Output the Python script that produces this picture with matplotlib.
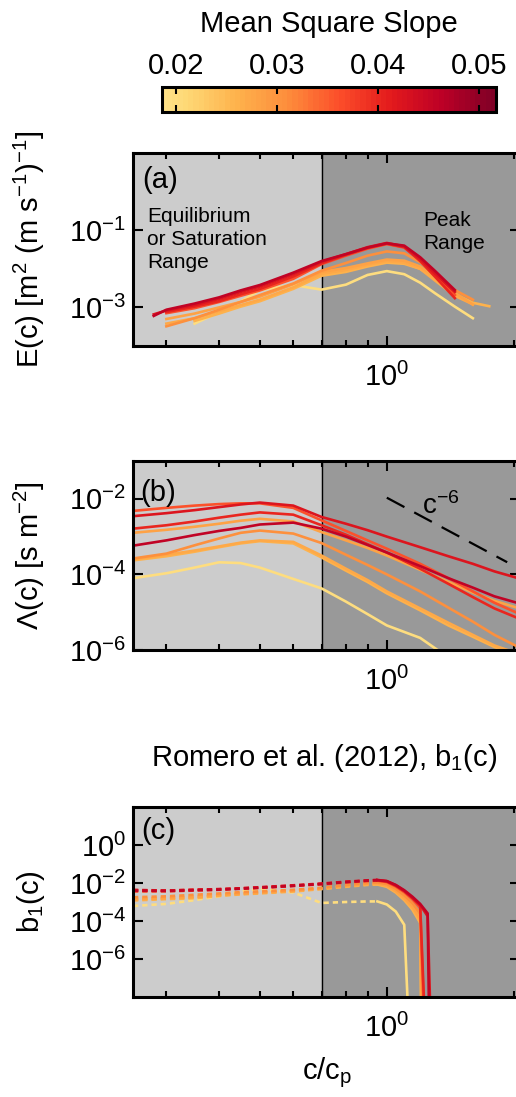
import numpy as np
import matplotlib
matplotlib.use('Agg')
import matplotlib.pyplot as plt
from matplotlib.colors import ListedColormap, Normalize
from matplotlib.cm import ScalarMappable
from matplotlib.ticker import NullFormatter, NullLocator

plt.rcParams['font.family'] = ['Liberation Sans', 'DejaVu Sans']
plt.rcParams['mathtext.fontset'] = 'custom'
plt.rcParams['mathtext.rm'] = 'Liberation Sans'
plt.rcParams['mathtext.it'] = 'Liberation Sans'
plt.rcParams['mathtext.bf'] = 'Liberation Sans:bold'

# mean square slope of each record (colour)
mss = [0.020, 0.026, 0.027, 0.028, 0.031, 0.036, 0.040, 0.042, 0.046]

nan = np.nan

# (a) E(c), log10 values
grid_a = [0.28, 0.3, 0.35, 0.4, 0.45, 0.5, 0.6, 0.7, 0.8, 0.9, 1.0, 1.1, 1.2, 1.3, 1.45, 1.6, 1.75]
E_exp = [
    [nan, nan, -3.42, -3.12, -2.85, -2.55, -2.42, -2.54, -2.41, -2.16, -2.06, -2.14, -2.36, -2.63, -2.98, -3.28, nan],
    [nan, nan, -3.35, -3.16, -2.98, -2.84, -2.52, -2.18, -2.08, -1.94, -1.84, -1.87, -2.00, -2.25, -2.65, -2.88, -2.97],
    [nan, -3.42, -3.28, -3.10, -2.94, -2.80, -2.48, -2.13, -2.03, -1.90, -1.80, -1.84, -2.00, -2.30, -2.70, -2.92, nan],
    [nan, -3.30, -3.16, -3.00, -2.86, -2.72, -2.40, -2.08, -1.98, -1.86, -1.76, -1.79, -1.94, -2.22, -2.62, -2.93, nan],
    [nan, -3.49, -3.28, -3.06, -2.86, -2.68, -2.38, -2.05, -1.85, -1.66, -1.55, -1.60, -1.83, -2.15, -2.55, -2.80, nan],
    [nan, -3.15, -3.02, -2.86, -2.70, -2.56, -2.26, -1.88, -1.66, -1.48, -1.36, -1.45, -1.78, -2.15, -2.68, nan, nan],
    [nan, -3.12, -2.98, -2.84, -2.66, -2.52, -2.20, -1.86, -1.64, -1.46, -1.35, -1.44, -1.80, -2.20, -2.76, nan, nan],
    [-3.18, -3.08, -2.94, -2.78, -2.60, -2.46, -2.14, -1.82, -1.62, -1.44, -1.33, -1.42, -1.75, -2.12, -2.60, nan, nan],
    [-3.22, -3.06, -2.90, -2.74, -2.56, -2.42, -2.10, -1.80, -1.62, -1.45, -1.34, -1.40, -1.70, -2.05, -2.55, nan, nan],
]

# (b) Lambda(c), log10 values
grid_b = [0.25, 0.3, 0.35, 0.4, 0.45, 0.5, 0.6, 0.7, 0.8, 0.9, 1.0, 1.2, 1.4, 1.6, 1.8, 2.05]
L_exp = [
    [-4.10, -3.97, -3.82, -3.68, -3.70, -3.82, -4.12, -4.37, -4.72, -5.05, -5.35, -5.68, -6.20, -6.45, -6.65, -6.85],
    [-3.63, -3.52, -3.40, -3.28, -3.18, -3.12, -3.18, -3.55, -3.90, -4.20, -4.50, -4.95, -5.35, -5.65, -5.92, -6.15],
    [-3.60, -3.48, -3.37, -3.26, -3.16, -3.10, -3.14, -3.50, -3.85, -4.15, -4.45, -4.90, -5.28, -5.60, -5.88, -6.10],
    [-2.90, -2.82, -2.74, -2.66, -2.58, -2.53, -2.60, -2.88, -3.10, -3.30, -3.50, -3.88, -4.20, -4.48, -4.70, -4.89],
    [-3.58, -3.45, -3.23, -3.05, -2.90, -2.84, -2.92, -3.17, -3.48, -3.75, -4.00, -4.45, -4.88, -5.25, -5.60, -5.92],
    [-2.32, -2.24, -2.18, -2.14, -2.12, -2.12, -2.24, -2.57, -2.85, -3.10, -3.32, -3.72, -4.10, -4.45, -4.75, -5.03],
    [-2.79, -2.70, -2.60, -2.50, -2.42, -2.36, -2.42, -2.70, -2.95, -3.20, -3.42, -3.85, -4.25, -4.60, -4.90, -5.16],
    [-2.46, -2.38, -2.30, -2.22, -2.15, -2.10, -2.18, -2.48, -2.66, -2.83, -3.00, -3.28, -3.52, -3.72, -3.92, -4.10],
    [-3.24, -3.10, -2.96, -2.85, -2.77, -2.68, -2.63, -2.79, -3.00, -3.22, -3.42, -3.78, -4.10, -4.35, -4.58, -4.76],
]
ref_c = [1.0, 1.93]
ref_lam = [1.07e-2, 2.1e-4]

# (c) Romero et al. b1(c), log10 values, and the speed where it drops out
grid_c = [0.25, 0.3, 0.35, 0.4, 0.45, 0.5, 0.6, 0.7, 0.8, 0.9, 0.95, 1.0, 1.05, 1.1, 1.15, 1.2, 1.25]
b1_exp = [
    [-3.21, -3.10, -2.90, -2.70, -2.45, -2.30, -2.50, -3.05, -3.00, -2.97, -2.97, -3.13, -3.50, -4.20, nan, nan, nan],
    [-2.92, -2.85, -2.80, -2.68, -2.60, -2.55, -2.45, -2.32, -2.20, -2.10, -2.08, -2.20, -2.50, -2.90, -3.40, -4.10, nan],
    [-2.88, -2.82, -2.76, -2.65, -2.58, -2.52, -2.42, -2.30, -2.16, -2.07, -2.05, -2.15, -2.45, -2.85, -3.30, -3.95, nan],
    [-2.85, -2.78, -2.72, -2.62, -2.55, -2.50, -2.40, -2.28, -2.14, -2.04, -2.02, -2.12, -2.40, -2.78, -3.22, -3.85, nan],
    [-2.75, -2.70, -2.62, -2.55, -2.48, -2.44, -2.36, -2.25, -2.10, -2.00, -1.97, -2.05, -2.30, -2.65, -3.05, -3.60, nan],
    [-2.45, -2.44, -2.40, -2.36, -2.30, -2.26, -2.16, -2.07, -1.97, -1.90, -1.88, -1.95, -2.18, -2.48, -2.85, -3.30, nan],
    [-2.36, -2.40, -2.35, -2.33, -2.28, -2.24, -2.14, -2.05, -1.95, -1.88, -1.86, -1.92, -2.14, -2.42, -2.78, -3.20, nan],
    [-2.38, -2.40, -2.36, -2.32, -2.28, -2.22, -2.12, -2.03, -1.93, -1.86, -1.84, -1.90, -2.12, -2.42, -2.78, -3.15, -3.75],
    [-2.40, -2.42, -2.38, -2.35, -2.30, -2.25, -2.15, -2.05, -1.95, -1.87, -1.85, -1.90, -2.10, -2.38, -2.72, -3.10, -3.60],
]
b1_cut = [1.14, 1.21, 1.215, 1.22, 1.23, 1.24, 1.245, 1.28, 1.265]
dash_end = 0.95

cbar_ticks = [0.02, 0.03, 0.04, 0.05]
cbar_labels = ['0.02', '0.03', '0.04', '0.05']
minor_x = [0.3, 0.4, 0.5, 0.6, 0.7, 0.8, 0.9, 2.0]

FS = 21

cmap = ListedColormap(plt.get_cmap('YlOrRd')(np.linspace(0.2, 1.0, 64)))
norm = Normalize(0.0186, 0.0517)

fig = plt.figure(figsize=(5.16, 10.97), dpi=100)
W, H = 516.0, 1097.0


def box(l, t, r, b):
    return [l / W, 1 - b / H, (r - l) / W, (b - t) / H]


def style(ax, ylim, yticks, ylabels):
    ax.set_xscale('log')
    ax.set_yscale('log')
    ax.set_xlim(0.25, 2.07)
    ax.set_ylim(*ylim)
    ax.axvspan(0.25, 0.7, color='#cccccc', zorder=0)
    ax.axvspan(0.7, 2.07, color='#999999', zorder=0)
    ax.axvline(0.7, color='k', lw=1.0, zorder=1)
    ax.set_xticks([1.0])
    ax.set_xticklabels(['$10^{0}$'])
    ax.set_xticks(minor_x, minor=True)
    ax.xaxis.set_minor_formatter(NullFormatter())
    ax.set_yticks(yticks)
    ax.set_yticklabels(ylabels)
    ax.yaxis.set_minor_locator(NullLocator())
    ax.tick_params(which='both', direction='in', top=True, right=True, labelsize=FS)
    ax.tick_params(which='major', length=7, width=1.5)
    ax.tick_params(which='minor', length=4, width=1.5)
    ax.tick_params(axis='x', pad=12)
    ax.tick_params(axis='y', pad=5)
    for s in ax.spines.values():
        s.set_linewidth(2.2)
        s.set_zorder(5)


# colorbar
cax = fig.add_axes(box(162, 87, 496, 112))
cb = fig.colorbar(ScalarMappable(norm=norm, cmap=cmap), cax=cax,
                  orientation='horizontal', ticklocation='top')
cb.set_ticks(cbar_ticks)
cb.set_ticklabels(cbar_labels)
cax.tick_params(direction='in', top=True, bottom=True, length=5, width=1.5,
                labelsize=FS, pad=5)
cb.outline.set_linewidth(2.2)
fig.text(329 / W, 1 - 24 / H, 'Mean Square Slope', ha='center', va='center', fontsize=FS)

# (a)
ax1 = fig.add_axes(box(133, 153, 520, 346))
style(ax1, (1e-4, 10), [1e-3, 1e-1], ['$10^{-3}$', '$10^{-1}$'])
for m, vals in zip(mss, E_exp):
    ax1.plot(grid_a, 10.0 ** np.array(vals), color=cmap(norm(m)), lw=1.9, zorder=2)
ax1.set_ylabel('E(c) [m$^2$ (m s$^{-1}$)$^{-1}$]', fontsize=FS)
ax1.yaxis.set_label_coords(-0.222, 0.5)
ax1.text(0.024, 0.935, '(a)', transform=ax1.transAxes, fontsize=FS, va='top')
ax1.text(0.037, 0.72, 'Equilibrium\nor Saturation\nRange', transform=ax1.transAxes,
         fontsize=15, va='top', linespacing=1.25)
ax1.text(0.75, 0.70, 'Peak\nRange', transform=ax1.transAxes,
         fontsize=15, va='top', linespacing=1.25)

# (b)
ax2 = fig.add_axes(box(133, 461, 520, 650))
style(ax2, (1e-6, 1e-1), [1e-6, 1e-4, 1e-2], ['$10^{-6}$', '$10^{-4}$', '$10^{-2}$'])
for m, vals in zip(mss, L_exp):
    ax2.plot(grid_b, 10.0 ** np.array(vals), color=cmap(norm(m)), lw=1.9, zorder=2)
ax2.plot(ref_c, ref_lam, color='k', lw=1.6, ls=(0, (9, 5)), zorder=3)
ax2.text(0.748, 0.72, 'c$^{-6}$', transform=ax2.transAxes, fontsize=20, va='baseline')
ax2.set_ylabel('Λ(c) [s m$^{-2}$]', fontsize=FS)
ax2.yaxis.set_label_coords(-0.222, 0.5)
ax2.text(0.018, 0.905, '(b)', transform=ax2.transAxes, fontsize=FS, va='top')

# (c)
ax3 = fig.add_axes(box(133, 807, 520, 997))
style(ax3, (1e-8, 1e2), [1e-6, 1e-4, 1e-2, 1e0],
      ['$10^{-6}$', '$10^{-4}$', '$10^{-2}$', '$10^{0}$'])
gc = np.array(grid_c)
for m, vals, cut in zip(mss, b1_exp, b1_cut):
    y = 10.0 ** np.array(vals)
    ok = np.isfinite(y)
    x = np.append(gc[ok], cut)
    y = np.append(y[ok], 1e-12)
    col = cmap(norm(m))
    d = x <= dash_end
    s = x >= dash_end
    ax3.plot(x[d], y[d], color=col, lw=1.9, ls=(0, (2, 1.5)), zorder=2)
    ax3.plot(x[s], y[s], color=col, lw=1.9, zorder=2)
ax3.set_ylabel('b$_1$(c)', fontsize=FS)
ax3.yaxis.set_label_coords(-0.222, 0.5)
ax3.text(0.022, 0.945, '(c)', transform=ax3.transAxes, fontsize=FS, va='top')
ax3.set_xlabel('c/c$_\\mathrm{p}$', fontsize=FS)
ax3.xaxis.set_label_coords(0.5, -0.31)
fig.text(324 / W, 1 - 758 / H, 'Romero et al. (2012), b$_1$(c)', ha='center',
         va='center', fontsize=FS)

fig.savefig('out.png', dpi=100)
